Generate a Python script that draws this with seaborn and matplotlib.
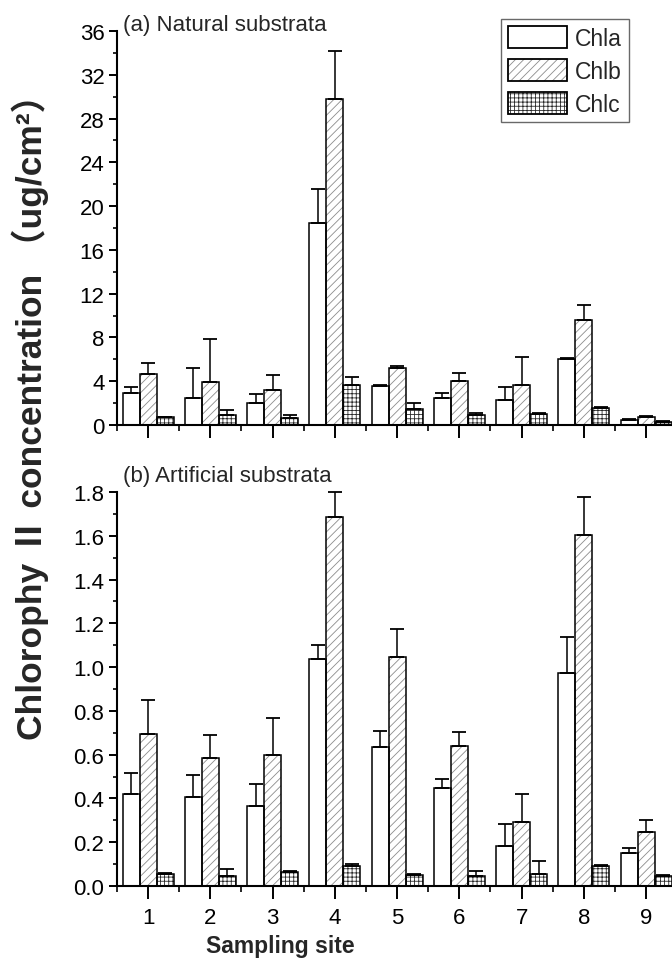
import numpy as np
import pandas as pd
import matplotlib
matplotlib.use("Agg")
import matplotlib.pyplot as plt
import seaborn as sns
from matplotlib.patches import Patch, Rectangle
from matplotlib.ticker import MultipleLocator, AutoMinorLocator
from matplotlib.legend_handler import HandlerTuple

# ---------------- data ----------------
sites = [1, 2, 3, 4, 5, 6, 7, 8, 9]
pigments = ["Chla", "Chlb", "Chlc"]

nat_chla = [2.96, 2.50, 2.01, 18.43, 3.57, 2.50, 2.26, 6.00, 0.46]
nat_chlb = [4.70, 3.94, 3.20, 29.80, 5.25, 4.03, 3.63, 9.58, 0.76]
nat_chlc = [0.73, 0.88, 0.67, 3.63, 1.43, 0.92, 1.04, 1.53, 0.30]
nat_chla_sd = [0.52, 2.75, 0.86, 3.14, 0.09, 0.46, 1.22, 0.16, 0.12]
nat_chlb_sd = [0.94, 3.90, 1.35, 4.40, 0.15, 0.70, 2.59, 1.37, 0.06]
nat_chlc_sd = [0.02, 0.46, 0.21, 0.76, 0.55, 0.21, 0.09, 0.12, 0.07]

art_chla = [0.421, 0.405, 0.367, 1.038, 0.634, 0.447, 0.184, 0.973, 0.149]
art_chlb = [0.695, 0.584, 0.600, 1.686, 1.046, 0.639, 0.294, 1.602, 0.245]
art_chlc = [0.055, 0.044, 0.065, 0.093, 0.052, 0.047, 0.056, 0.093, 0.047]
art_chla_sd = [0.096, 0.100, 0.099, 0.061, 0.076, 0.042, 0.100, 0.164, 0.023]
art_chlb_sd = [0.153, 0.104, 0.167, 0.114, 0.129, 0.064, 0.127, 0.175, 0.057]
art_chlc_sd = [0.003, 0.035, 0.003, 0.007, 0.004, 0.023, 0.058, 0.002, 0.003]

top_ticks = [0, 4, 8, 12, 16, 20, 24, 28, 32, 36]
bottom_ticks = [0.0, 0.2, 0.4, 0.6, 0.8, 1.0, 1.2, 1.4, 1.6, 1.8]

panel_a = "(a) Natural substrata"
panel_b = "(b) Artificial substrata"
ylabel = "Chlorophy Ⅱ concentration （ug/cm²）"
xlabel = "Sampling site"

# ---------------- style ----------------
sns.set_style("ticks")
plt.rcParams["font.family"] = ["Liberation Sans", "Noto Sans CJK SC", "DejaVu Sans"]
plt.rcParams["hatch.linewidth"] = 0.6

styles = {
    "Chla": dict(hatch=None, hcolor="white"),
    "Chlb": dict(hatch="////", hcolor="#8c8c8c"),
    "Chlc": dict(hatch="++++", hcolor="#2a2a2a"),
}

W_PX, H_PX = 672, 962
fig = plt.figure(figsize=(W_PX / 100, H_PX / 100), dpi=100)

left = 117 / W_PX
width = 1.0 - left
ax_top = fig.add_axes([left, 1 - 426 / H_PX, width, 394 / H_PX])
ax_bot = fig.add_axes([left, 1 - 887 / H_PX, width, 394 / H_PX])


def draw(ax, vals, sds, ymax, ticks, fmt, labels_on):
    df = pd.DataFrame({
        "site": sites * 3,
        "pigment": np.repeat(pigments, len(sites)),
        "value": vals[0] + vals[1] + vals[2],
    })
    sns.barplot(data=df, x="site", y="value", hue="pigment", hue_order=pigments,
                native_scale=True, width=0.82, dodge=True, errorbar=None,
                palette=["white"] * 3, legend=False, ax=ax, linewidth=0,
                saturation=1)
    for cont, pig, sd in zip(ax.containers, pigments, sds):
        st = styles[pig]
        xs, ys = [], []
        for p in cont.patches:
            p.set_facecolor("white")
            if st["hatch"]:
                p.set_hatch(st["hatch"])
                p.set_edgecolor(st["hcolor"])
            else:
                p.set_edgecolor("white")
            p.set_linewidth(0)
            ax.add_patch(Rectangle(p.get_xy(), p.get_width(), p.get_height(),
                                   fill=False, edgecolor="black", linewidth=1.1,
                                   zorder=3))
            xs.append(p.get_x() + p.get_width() / 2)
            ys.append(p.get_height())
        ax.errorbar(xs, ys, yerr=[np.zeros(len(sd)), sd], fmt="none",
                    ecolor="black", elinewidth=1.1, capsize=4.7, capthick=1.3,
                    zorder=2, clip_on=False)
    ax.set_xlim(0.5, 0.5 + 555 / 62.25)
    ax.set_ylim(0, ymax)
    ax.set_yticks(ticks)
    ax.set_yticklabels([fmt.format(t) for t in ticks], fontsize=16)
    ax.yaxis.set_minor_locator(AutoMinorLocator(2))
    ax.set_xticks(sites)
    ax.xaxis.set_minor_locator(MultipleLocator(0.5))
    if labels_on:
        ax.set_xticklabels([str(s) for s in sites], fontsize=16)
    else:
        ax.set_xticklabels([])
    ax.set_xlabel("")
    ax.set_ylabel("")
    for s in ["top", "right"]:
        ax.spines[s].set_visible(False)
    for s in ["left", "bottom"]:
        ax.spines[s].set_linewidth(1.5)
        ax.spines[s].set_color("black")
        ax.spines[s].set_zorder(4)
    ax.tick_params(axis="y", which="major", direction="out", length=6, width=1.4,
                   colors="black", pad=3)
    ax.tick_params(axis="y", which="minor", direction="out", length=3, width=1.2,
                   colors="black")
    ax.tick_params(axis="x", which="major", direction="out", length=9, width=1.4,
                   colors="black", pad=6)
    ax.tick_params(axis="x", which="minor", direction="out", length=4.5, width=1.2,
                   colors="black")
    ax.set_facecolor("white")


draw(ax_top, [nat_chla, nat_chlb, nat_chlc], [nat_chla_sd, nat_chlb_sd, nat_chlc_sd],
     36, top_ticks, "{:.0f}", False)
draw(ax_bot, [art_chla, art_chlb, art_chlc], [art_chla_sd, art_chlb_sd, art_chlc_sd],
     1.8, bottom_ticks, "{:.1f}", True)

fig.text(123 / W_PX, 1 - 25 / H_PX, panel_a, fontsize=16, va="center", ha="left")
fig.text(123 / W_PX, 1 - 477 / H_PX, panel_b, fontsize=16, va="center", ha="left")

fig.text(30 / W_PX, 1 - 408 / H_PX, ylabel, rotation=90, fontsize=25.5,
         fontweight="bold", va="center", ha="center")
fig.text(280 / W_PX, 4 / H_PX, xlabel, fontsize=16.5, fontweight="bold",
         va="bottom", ha="center")

# legend
handles = []
for pig in pigments:
    st = styles[pig]
    under = Patch(facecolor="white", edgecolor=st["hcolor"], hatch=st["hatch"], linewidth=0)
    over = Patch(facecolor="none", edgecolor="black", linewidth=1.3)
    handles.append((under, over))
leg = fig.legend(handles, pigments, loc="upper right",
                 bbox_to_anchor=(629 / W_PX, 1 - 20 / H_PX),
                 bbox_transform=fig.transFigure, borderaxespad=0,
                 fontsize=16.5, frameon=True, fancybox=False,
                 handlelength=2.6, handleheight=1.1, handletextpad=0.35,
                 labelspacing=0.4, borderpad=0.3,
                 handler_map={tuple: HandlerTuple(ndivide=1, pad=0)})
leg.get_frame().set_edgecolor("#444444")
leg.get_frame().set_linewidth(1.0)

fig.savefig("out.png", dpi=100, facecolor="white")
